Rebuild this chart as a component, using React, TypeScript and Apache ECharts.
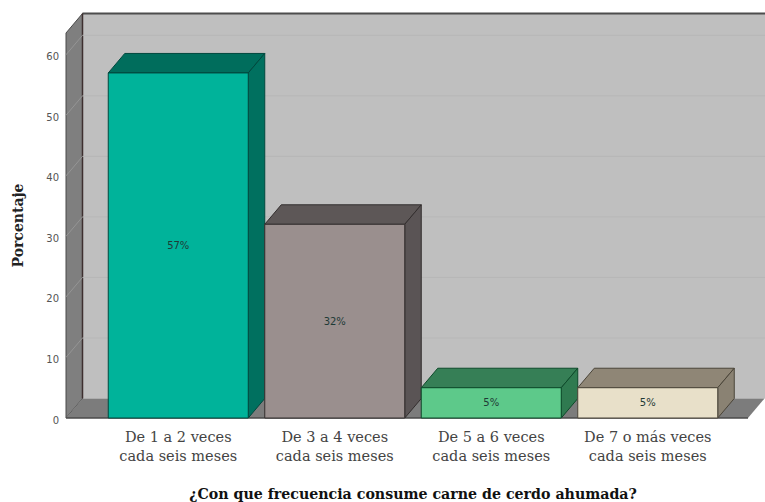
import React, { useEffect, useRef } from "react";
import * as echarts from "echarts";

const categories = [
  "De 1 a 2 veces\ncada seis meses",
  "De 3 a 4 veces\ncada seis meses",
  "De 5 a 6 veces\ncada seis meses",
  "De 7 o más veces\ncada seis meses",
];
const percentages = [57, 32, 5, 5];
const yTicks = [0, 10, 20, 30, 40, 50, 60];
const frontColors = ["#00b39a", "#9a8f8e", "#5dc98a", "#e8e0c9"];
const topColors = ["#006d5c", "#5d5757", "#367f56", "#8f8676"];
const sideColors = ["#00705f", "#5a5455", "#2f7a50", "#8a8273"];
const edgeColors = ["#00483e", "#332e2e", "#0d4a2a", "#4a4438"];

const DEPTH_X = 16.5;
const DEPTH_Y = 19.5;
const WALL_TOP_VALUE = 63.6;
const BAR_RATIO = 140 / 156.5;

const GRID_LEFT = 100;
const GRID_WIDTH = 626;
const GRID_TOP = 33;
const GRID_BOTTOM = 84;
const FLOOR_LEFT = 66;
const FLOOR_RIGHT = 748;

// Left wall, back wall and floor of the 3D chamber, with the faint rules for each tick.
function renderChamber(_params: any, api: any) {
  const yBase = api.coord([0, 0])[1];
  const yTop = api.coord([0, WALL_TOP_VALUE])[1];
  const xl = FLOOR_LEFT;
  const xr = FLOOR_RIGHT;
  const backL = xl + DEPTH_X;
  const backR = xr + DEPTH_X + 10;
  const rule = { stroke: "#b7b7b7", lineWidth: 1 };
  const children: any[] = [
    {
      type: "rect",
      shape: { x: backL, y: yTop - DEPTH_Y, width: backR - backL, height: yBase - yTop },
      style: { fill: "#bfbfbf" },
    },
    {
      type: "polygon",
      shape: {
        points: [
          [xl, yTop],
          [backL, yTop - DEPTH_Y],
          [backL, yBase - DEPTH_Y],
          [xl, yBase],
        ],
      },
      style: { fill: "#7f7f7f", stroke: "#4a4a4a", lineWidth: 1 },
    },
    {
      type: "polygon",
      shape: {
        points: [
          [xl, yBase],
          [backL, yBase - DEPTH_Y],
          [xr + DEPTH_X, yBase - DEPTH_Y],
          [xr, yBase],
        ],
      },
      style: { fill: "#7c7c7c" },
    },
    {
      type: "line",
      shape: { x1: backL, y1: yTop - DEPTH_Y, x2: backR, y2: yTop - DEPTH_Y },
      style: { stroke: "#4d4d4d", lineWidth: 2 },
    },
    {
      type: "line",
      shape: { x1: backL, y1: yTop - DEPTH_Y, x2: backL, y2: yBase - DEPTH_Y },
      style: { stroke: "#3d2f2f", lineWidth: 1.5 },
    },
    {
      type: "line",
      shape: { x1: xl, y1: yBase, x2: xr, y2: yBase },
      style: { stroke: "#4a4a4a", lineWidth: 1.5 },
    },
  ];
  yTicks.slice(1).forEach((v) => {
    const y = api.coord([0, v])[1];
    children.push({
      type: "line",
      shape: { x1: backL, y1: y - DEPTH_Y, x2: backR, y2: y - DEPTH_Y },
      style: rule,
    });
    children.push({
      type: "line",
      shape: { x1: xl, y1: y, x2: backL, y2: y - DEPTH_Y },
      style: { stroke: "#959595", lineWidth: 1 },
    });
  });
  return { type: "group", children };
}

// One box: front face, top face, side face and the centred percentage.
function renderBox(_params: any, api: any) {
  const idx = api.value(0);
  const val = api.value(1);
  const [cx, yTop] = api.coord([idx, val]);
  const yBase = api.coord([idx, 0])[1];
  const w = api.size([1, 0])[0] * BAR_RATIO;
  const x0 = cx - w / 2;
  const x1 = cx + w / 2;
  const edge = edgeColors[idx];
  const line = { stroke: edge, lineWidth: 1 };
  return {
    type: "group",
    children: [
      {
        type: "polygon",
        shape: {
          points: [
            [x0, yTop],
            [x0 + DEPTH_X, yTop - DEPTH_Y],
            [x1 + DEPTH_X, yTop - DEPTH_Y],
            [x1, yTop],
          ],
        },
        style: { fill: topColors[idx], ...line },
      },
      {
        type: "polygon",
        shape: {
          points: [
            [x1, yTop],
            [x1 + DEPTH_X, yTop - DEPTH_Y],
            [x1 + DEPTH_X, yBase - DEPTH_Y],
            [x1, yBase],
          ],
        },
        style: { fill: sideColors[idx], ...line },
      },
      {
        type: "rect",
        shape: { x: x0, y: yTop, width: w, height: yBase - yTop },
        style: { fill: frontColors[idx], ...line },
      },
      {
        type: "text",
        x: cx,
        y: (yTop + yBase) / 2,
        style: {
          text: `${val}%`,
          fontFamily: "'DejaVu Sans', sans-serif",
          fontSize: 10,
          fill: "#1f3a36",
          align: "center",
          verticalAlign: "middle",
        },
      },
    ],
  };
}

export default function App() {
  const ref = useRef<HTMLDivElement>(null);

  useEffect(() => {
    const chart = echarts.init(ref.current!, undefined, { renderer: "svg" });
    chart.setOption({
      animation: false,
      backgroundColor: "#ffffff",
      grid: {
        left: GRID_LEFT,
        width: GRID_WIDTH,
        top: GRID_TOP,
        bottom: GRID_BOTTOM,
        outerBoundsMode: "none",
      },
      xAxis: {
        type: "category",
        data: categories,
        axisLine: { show: false },
        axisTick: { show: false },
        axisLabel: {
          interval: 0,
          margin: 9,
          fontFamily: "'DejaVu Serif', serif",
          fontSize: 14.5,
          lineHeight: 19,
          color: "#444444",
        },
        name: "¿Con que frecuencia consume carne de cerdo ahumada?",
        nameLocation: "middle",
        nameGap: 69,
        nameTextStyle: {
          fontFamily: "'DejaVu Serif', serif",
          fontWeight: "bold",
          fontSize: 14.2,
          color: "#111111",
        },
      },
      yAxis: {
        type: "value",
        min: 0,
        max: WALL_TOP_VALUE,
        interval: 10,
        offset: GRID_LEFT - FLOOR_LEFT,
        axisLine: { show: false },
        axisTick: { show: false },
        splitLine: { show: false },
        axisLabel: {
          showMaxLabel: false,
          margin: 7,
          formatter: "{tick|{value}}",
          rich: {
            tick: {
              padding: [4, 0, 0, 0],
              fontFamily: "'DejaVu Sans', sans-serif",
              fontSize: 10,
              color: "#555555",
            },
          },
        },
        name: "Porcentaje",
        nameLocation: "middle",
        nameGap: 41,
        nameTextStyle: {
          fontFamily: "'DejaVu Serif', serif",
          fontWeight: "bold",
          fontSize: 14,
          color: "#222222",
        },
      },
      series: [
        {
          type: "custom",
          coordinateSystem: "cartesian2d",
          renderItem: renderChamber,
          clip: false,
          silent: true,
          z: 1,
          data: [[0, 0]],
          encode: { x: 0, y: 1 },
        },
        {
          type: "custom",
          coordinateSystem: "cartesian2d",
          renderItem: renderBox,
          clip: false,
          z: 2,
          data: percentages.map((v, i) => [i, v]),
          encode: { x: 0, y: 1 },
        },
      ],
    });
    return () => chart.dispose();
  }, []);

  return (
    <div
      ref={ref}
      style={{ position: "fixed", left: 0, top: 0, width: 765, height: 502, overflow: "hidden" }}
    />
  );
}
